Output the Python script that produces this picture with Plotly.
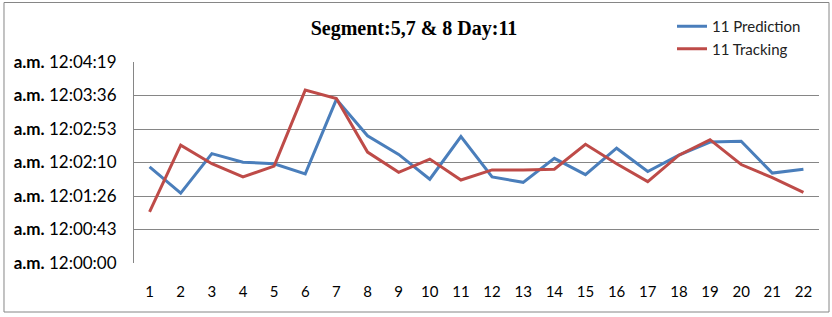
import plotly.graph_objects as go

categories = [str(i) for i in range(1, 23)]
# seconds after 12:00:00
prediction = [124, 90, 141, 130, 128, 115, 211, 164, 140, 108, 163, 111,
              104, 135, 114, 148, 118, 139, 156, 157, 116, 121]
tracking = [66, 152, 128, 111, 125, 223, 212, 143, 117, 134, 107, 120,
            120, 121, 153, 128, 105, 139, 159, 127, 110, 91]
tick_vals = [0, 43.2, 86.4, 129.6, 172.8, 216, 259.2]
tick_text = ["12:00:00", "12:00:43", "12:01:26", "12:02:10",
             "12:02:53", "12:03:36", "12:04:19"]

fig = go.Figure()
fig.add_trace(go.Scatter(x=categories, y=prediction, mode="lines",
                         name="11 Prediction", legendgroup="a",
                         line=dict(color="#4A7EBB", width=3)))
fig.add_trace(go.Scatter(x=categories, y=tracking, mode="lines",
                         name="11 Tracking", legendgroup="b",
                         line=dict(color="#BE4B48", width=3)))

fig.update_layout(
    width=832, height=317,
    margin=dict(l=134, r=13, t=62, b=54, autoexpand=False),
    paper_bgcolor="white", plot_bgcolor="white",
    title=dict(text="<b>Segment:5,7 &amp; 8 Day:11</b>",
               font=dict(family="Liberation Serif", size=20, color="black"),
               x=414 / 832, xanchor="center", xref="container",
               y=1 - 28 / 317, yanchor="middle", yref="container"),
    legend=dict(xref="container", yref="container",
                x=672 / 832, y=1 - 10 / 317, xanchor="left", yanchor="top",
                font=dict(family="Lato", size=15, color="#222"),
                bgcolor="rgba(0,0,0,0)", traceorder="grouped",
                tracegroupgap=0, itemwidth=30),
    showlegend=True,
    shapes=[dict(type="rect", xref="paper", yref="paper",
                 x0=-0.1898, x1=1.0146, y0=-0.2438, y1=1.296,
                 line=dict(color="#868686", width=1))],
)
fig.update_xaxes(type="category", range=[-0.5, 21.5], showgrid=False,
                 showline=False, ticks="", ticklabelstandoff=18,
                 automargin=False,
                 tickfont=dict(family="Lato", size=15, color="black"),
                 zeroline=False, fixedrange=True)
fig.update_yaxes(range=[0, 259.2], tickvals=tick_vals,
                 ticktext=["<b>a.m.</b> " + t for t in tick_text],
                 showgrid=True, gridcolor="#868686", gridwidth=1,
                 showline=True, linecolor="#868686", linewidth=1,
                 ticks="", ticklabelstandoff=13, zeroline=False,
                 automargin=False, fixedrange=True,
                 tickfont=dict(family="Lato", size=17, color="black"))

fig.write_html("out.html", config={"displayModeBar": False},
               post_script="document.body.style.margin='0';"
                           "document.body.style.overflow='hidden';")
